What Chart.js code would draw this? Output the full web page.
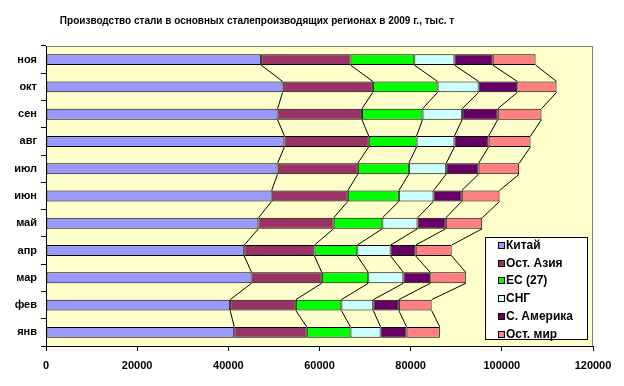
<!DOCTYPE html>
<html>
<head>
<meta charset="utf-8">
<script src="https://cdn.jsdelivr.net/npm/chart.js@4"></script>
<style>
  html, body { margin: 0; padding: 0; background: #ffffff; }
  #wrap { width: 624px; height: 386px; }
</style>
</head>
<body>
<div id="wrap"><canvas id="steelChart" width="624" height="386"></canvas></div>
<script>
// Производство стали, тыс. т (2009)
const months = ['янв', 'фев', 'мар', 'апр', 'май', 'июн', 'июл', 'авг', 'сен', 'окт', 'ноя'];
const regions = ['Китай', 'Ост. Азия', 'ЕС (27)', 'СНГ', 'С. Америка', 'Ост. мир'];
const china     = [41300, 40400, 45100, 43500, 46600, 49500, 50800, 52300, 50800, 51900, 47200];
const restAsia  = [15900, 14400, 15400, 15400, 16500, 16700, 17600, 18500, 18500, 19800, 19600];
const eu27      = [9600, 10000, 10200, 9400, 10700, 11200, 11200, 10500, 13300, 14200, 14000];
const cis       = [6600, 7000, 7700, 7300, 7700, 7600, 8200, 8300, 8700, 9000, 8800];
const nAmerica  = [5700, 5600, 5900, 5500, 6200, 6200, 7100, 7500, 7800, 8500, 8400];
const restWorld = [7300, 7200, 7800, 7900, 8000, 8300, 8900, 9200, 9600, 8600, 9400];
const xTicks = [0, 20000, 40000, 60000, 80000, 100000, 120000];

const colors = ['#9999FF', '#993366', '#00FF00', '#CCFFFF', '#660066', '#FF8080'];
const seriesValues = [china, restAsia, eu27, cis, nAmerica, restWorld];

const chartTitle = 'Производство стали в основных сталепроизводящих регионах в 2009 г., тыс. т';
const fontFamily = '"Liberation Sans", Arial, sans-serif';

// plot background + top/right border
const plotArea = {
    id: 'plotArea',
    beforeDraw(chart) {
        const { ctx, chartArea: a } = chart;
        ctx.save();
        ctx.fillStyle = '#FFFFCC';
        ctx.fillRect(a.left, a.top, a.right - a.left, a.bottom - a.top);
        ctx.strokeStyle = '#808080';
        ctx.lineWidth = 1;
        ctx.beginPath();
        ctx.moveTo(a.left, a.top + 0.5);
        ctx.lineTo(a.right - 0.5, a.top + 0.5);
        ctx.lineTo(a.right - 0.5, a.bottom);
        ctx.stroke();
        ctx.restore();
    }
};

// title sits a bit left of centre, like the excel original
const offTitle = {
    id: 'offTitle',
    afterDraw(chart) {
        const ctx = chart.ctx;
        ctx.save();
        ctx.font = 'bold 10px ' + fontFamily;
        ctx.fillStyle = '#000000';
        ctx.textAlign = 'center';
        ctx.textBaseline = 'middle';
        ctx.fillText(chartTitle, 257, 21);
        ctx.restore();
    }
};

// excel-like series lines between the bar ends
const seriesLines = {
    id: 'seriesLines',
    afterDatasetsDraw(chart) {
        const ctx = chart.ctx;
        ctx.save();
        ctx.strokeStyle = '#000000';
        ctx.lineWidth = 1;
        chart.data.datasets.forEach((ds, d) => {
            const bars = chart.getDatasetMeta(d).data;
            for (let i = 0; i < bars.length - 1; i++) {
                const a = bars[i], b = bars[i + 1];
                ctx.beginPath();
                ctx.moveTo(a.x, a.y - a.height / 2);
                ctx.lineTo(b.x, b.y + b.height / 2);
                ctx.stroke();
            }
        });
        ctx.restore();
    }
};

// legend box inside the plot
const boxLegend = {
    id: 'boxLegend',
    afterDraw(chart) {
        const ctx = chart.ctx;
        const x0 = 485, y0 = 237, w = 102, h = 102, step = 17.7;
        ctx.save();
        ctx.fillStyle = '#FFFFFF';
        ctx.fillRect(x0, y0, w, h);
        ctx.strokeStyle = '#000000';
        ctx.lineWidth = 1;
        ctx.strokeRect(x0 + 0.5, y0 + 0.5, w, h);
        ctx.font = 'bold 12px ' + fontFamily;
        ctx.textBaseline = 'middle';
        chart.data.datasets.forEach((ds, i) => {
            const cy = Math.round(y0 + 8 + i * step);
            ctx.fillStyle = ds.backgroundColor;
            ctx.fillRect(x0 + 13, cy - 3, 7, 7);
            ctx.strokeStyle = '#000000';
            ctx.strokeRect(x0 + 13.5, cy - 2.5, 6, 6);
            ctx.fillStyle = '#000000';
            ctx.fillText(ds.label, x0 + 21, cy + 1);
        });
        ctx.restore();
    }
};

new Chart(document.getElementById('steelChart'), {
    type: 'bar',
    data: {
        labels: months,
        datasets: regions.map((name, i) => ({
            label: name,
            data: seriesValues[i],
            backgroundColor: colors[i],
            borderColor: '#000000',
            borderWidth: 1,
            borderSkipped: false,
            categoryPercentage: 0.4,
            barPercentage: 1
        }))
    },
    options: {
        indexAxis: 'y',
        responsive: false,
        animation: false,
        layout: { padding: { left: 0, right: 31, top: 46, bottom: 0 } },
        plugins: {
            legend: { display: false },
            tooltip: { enabled: false },
            title: { display: false }
        },
        scales: {
            x: {
                stacked: true,
                min: 0,
                max: 120000,
                afterBuildTicks(scale) { scale.ticks = xTicks.map(v => ({ value: v })); },
                afterFit(scale) { scale.height = 40; },
                border: { color: '#000000', width: 1 },
                grid: { drawOnChartArea: false, drawTicks: true, tickLength: 5, color: '#000000' },
                ticks: {
                    color: '#000000',
                    padding: 8,
                    maxRotation: 0,
                    font: { family: fontFamily, size: 11, weight: 'bold' },
                    callback: v => String(v)
                }
            },
            y: {
                stacked: true,
                reverse: true,
                afterFit(scale) { scale.width = 46; },
                border: { color: '#000000', width: 1 },
                grid: { offset: true, drawOnChartArea: false, drawTicks: true, tickLength: 5, color: '#000000' },
                ticks: {
                    color: '#000000',
                    padding: 4,
                    font: { family: fontFamily, size: 11, weight: 'bold' }
                }
            }
        }
    },
    plugins: [plotArea, seriesLines, boxLegend, offTitle]
});
</script>
</body>
</html>
